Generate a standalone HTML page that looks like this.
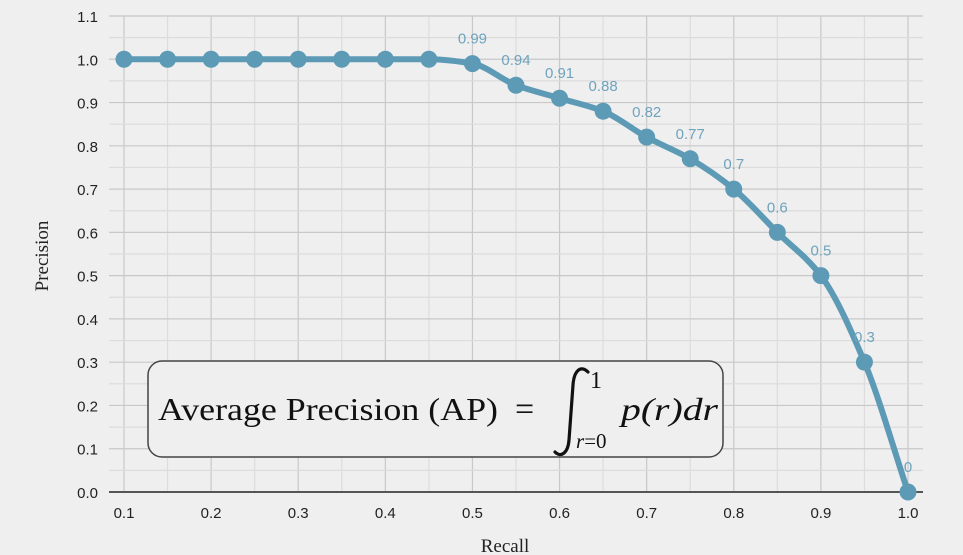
<!DOCTYPE html>
<html><head><meta charset="utf-8"><style>
body{margin:0;background:#efefef;}
svg{display:block;font-family:"Liberation Sans",sans-serif;}
</style></head><body>
<svg id="chart" width="963" height="555">
<rect width="963" height="555" fill="#efefef"/>
<g id="grid"></g>
<g id="axes"></g>
<path id="curve" fill="none" stroke="#5d9ab5" stroke-width="6" stroke-linejoin="round"/>
<g id="points"></g>
<g id="labels"></g>
<text x="505" y="552" font-family="Liberation Serif,serif" font-size="19" text-anchor="middle" fill="#222">Recall</text>
<text transform="translate(48,256) rotate(-90)" font-family="Liberation Serif,serif" font-size="19" text-anchor="middle" fill="#222">Precision</text>
<g>
<rect x="148" y="361" width="575" height="96" rx="14" fill="#efefef" stroke="#444" stroke-width="1.5"/>
<text x="158" y="420" font-family="Liberation Serif,serif" font-size="32" fill="#111" textLength="340" lengthAdjust="spacingAndGlyphs">Average Precision (AP)</text>
<text x="515" y="420" font-family="Liberation Serif,serif" font-size="34" fill="#111">=</text>
<path d="M588,372 C581,365 574,370 573,385 L569,440 C568,453 561,458 555,452" fill="none" stroke="#111" stroke-width="3.2" stroke-linecap="round"/>
<text x="590" y="388" font-family="Liberation Serif,serif" font-size="24" fill="#111">1</text>
<text x="576" y="448" font-family="Liberation Serif,serif" font-size="21" fill="#111"><tspan font-style="italic">r</tspan>=0</text>
<text x="621" y="420" font-family="Liberation Serif,serif" font-size="32" font-style="italic" fill="#111" textLength="97" lengthAdjust="spacingAndGlyphs">p(r)dr</text>
</g>
</svg>
<script>
const recall=[0.1,0.15,0.2,0.25,0.3,0.35,0.4,0.45,0.5,0.55,0.6,0.65,0.7,0.75,0.8,0.85,0.9,0.95,1.0];
const precision=[1,1,1,1,1,1,1,1,0.99,0.94,0.91,0.88,0.82,0.77,0.7,0.6,0.5,0.3,0];
const xTicks=[0.1,0.2,0.3,0.4,0.5,0.6,0.7,0.8,0.9,1.0];
const yTicks=[0,0.1,0.2,0.3,0.4,0.5,0.6,0.7,0.8,0.9,1.0,1.1];
const ns="http://www.w3.org/2000/svg";
const X=v=>124+(v-0.1)*(908-124)/0.9;
const Y=v=>492-v*(492-16)/1.1;
const L=109,R=923;
function mk(t,a,p){const e=document.createElementNS(ns,t);for(const k in a)e.setAttribute(k,a[k]);p.appendChild(e);return e;}
const grid=document.getElementById('grid'),axes=document.getElementById('axes');
for(let i=0;i<=18;i++){const v=0.1+i*0.05;const ln=mk('line',{x1:X(v),x2:X(v),y1:16,y2:492,stroke:i%2?'#dcdcdc':'#c8c8c8','stroke-width':1.2},grid);
}
for(let i=0;i<=22;i++){const v=i*0.05;const ln=mk('line',{x1:L,x2:R,y1:Y(v),y2:Y(v),stroke:i%2?'#dcdcdc':'#c8c8c8','stroke-width':1.2},grid);
}
const ax=mk('line',{x1:L,x2:R,y1:492,y2:492,stroke:'#555','stroke-width':2},axes);

xTicks.forEach(v=>{const t=mk('text',{x:X(v),y:518,'text-anchor':'middle','font-size':15,fill:'#222'},axes);t.textContent=v.toFixed(1);
});
yTicks.forEach(v=>{const t=mk('text',{x:98,y:Y(v)+6,'text-anchor':'end','font-size':15,fill:'#222'},axes);t.textContent=v.toFixed(1);
});
const px=recall.map(X),py=precision.map(Y),n=px.length;
const d=[],m=[];for(let i=0;i<n-1;i++)d.push((py[i+1]-py[i])/(px[i+1]-px[i]));
m[0]=d[0];m[n-1]=d[n-2];for(let i=1;i<n-1;i++)m[i]=d[i-1]*d[i]<=0?0:(2/(1/d[i-1]+1/d[i]));
let p=`M${px[0]},${py[0]}`;
for(let i=0;i<n-1;i++){const h=(px[i+1]-px[i])/3;p+=` C${px[i]+h},${py[i]+m[i]*h} ${px[i+1]-h},${py[i+1]-m[i+1]*h} ${px[i+1]},${py[i+1]}`;}
document.getElementById('curve').setAttribute('d',p);
const pts=document.getElementById('points'),lbs=document.getElementById('labels');
recall.forEach((r,i)=>{const c=mk('circle',{cx:X(r),cy:Y(precision[i]),r:8.5,fill:'#5d9ab5'},pts);

if(precision[i]<1){const t=mk('text',{x:X(r),y:Y(precision[i])-20,'text-anchor':'middle','font-size':15,fill:'#6fa3bd'},lbs);
t.textContent=String(precision[i]);
}});
</script>
</body></html>
